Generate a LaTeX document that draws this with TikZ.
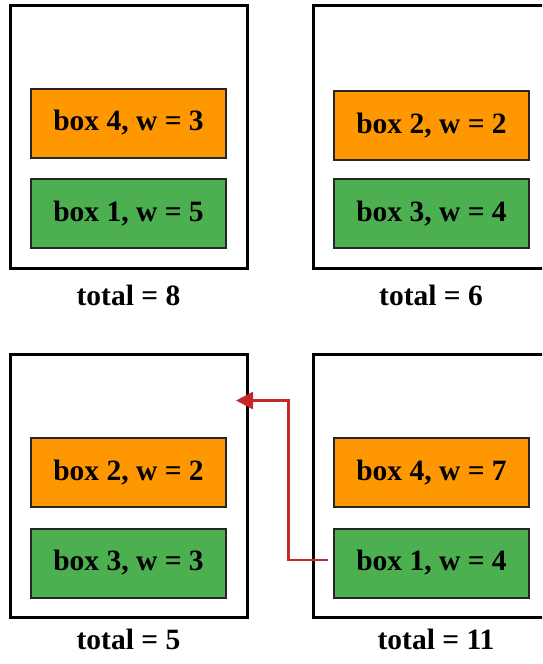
\documentclass[tikz,border=0pt]{standalone}
\usepackage{fontspec}
\setmainfont{Liberation Serif}
\usetikzlibrary{arrows.meta}
\definecolor{orangebox}{HTML}{FF9800}
\definecolor{greenbox}{HTML}{4CAF50}
\definecolor{arrowred}{HTML}{C62828}
\begin{document}
\begin{tikzpicture}[x=1pt,y=-1pt,
  bin/.style={draw=black, line width=3pt, minimum width=237pt, minimum height=263pt, inner sep=0pt, outer sep=0pt},
  item/.style={draw=black!85, line width=2pt, minimum width=195pt, minimum height=69pt, inner sep=0pt, outer sep=0pt,
    font=\fontsize{29.5}{32}\selectfont\bfseries, text=black},
  orangeitem/.style={item, fill=orangebox},
  greenitem/.style={item, fill=greenbox},
  total/.style={font=\fontsize{29.5}{32}\selectfont\bfseries, inner sep=0pt},
  moveline/.style={draw=arrowred, line width=2.5pt, -{Triangle[length=17pt,width=17pt]}}]
\clip (0,0) rectangle (542,664);
\useasboundingbox (0,0) rectangle (542,664);
\fill[white] (0,0) rectangle (542,664);
% top left
\node[bin] (binA) at (128.5,136.5) {};
\node[orangeitem] (a4) at (128.5,123) {box 4, w = 3};
\node[greenitem] (a1) at (128.5,213.5) {box 1, w = 5};
\node[total] (ta) at (128.5,295) {total = 8};
% top right
\node[bin] (binB) at (431.5,136.5) {};
\node[orangeitem] (b2) at (431.5,125.5) {box 2, w = 2};
\node[greenitem] (b3) at (431.5,213.5) {box 3, w = 4};
\node[total] (tb) at (431,295) {total = 6};
% bottom left
\node[bin] (binC) at (128.5,485.5) {};
\node[orangeitem] (c2) at (128.5,472.5) {box 2, w = 2};
\node[greenitem] (c3) at (128.5,563) {box 3, w = 3};
\node[total] (tc) at (128.5,639) {total = 5};
% bottom right
\node[bin] (binD) at (431.5,485.5) {};
\node[orangeitem] (d4) at (431.5,472.5) {box 4, w = 7};
\node[greenitem] (d1) at (431.5,563) {box 1, w = 4};
\node[total] (td) at (436,639) {total = 11};
% move arrow
\coordinate (turn) at (288.5,400.5);
\coordinate (tip) at (236,400.5);
\draw[moveline, shorten <=6pt] ([yshift=3pt]d1.west) -| (turn) -- (tip);
\end{tikzpicture}
\end{document}
